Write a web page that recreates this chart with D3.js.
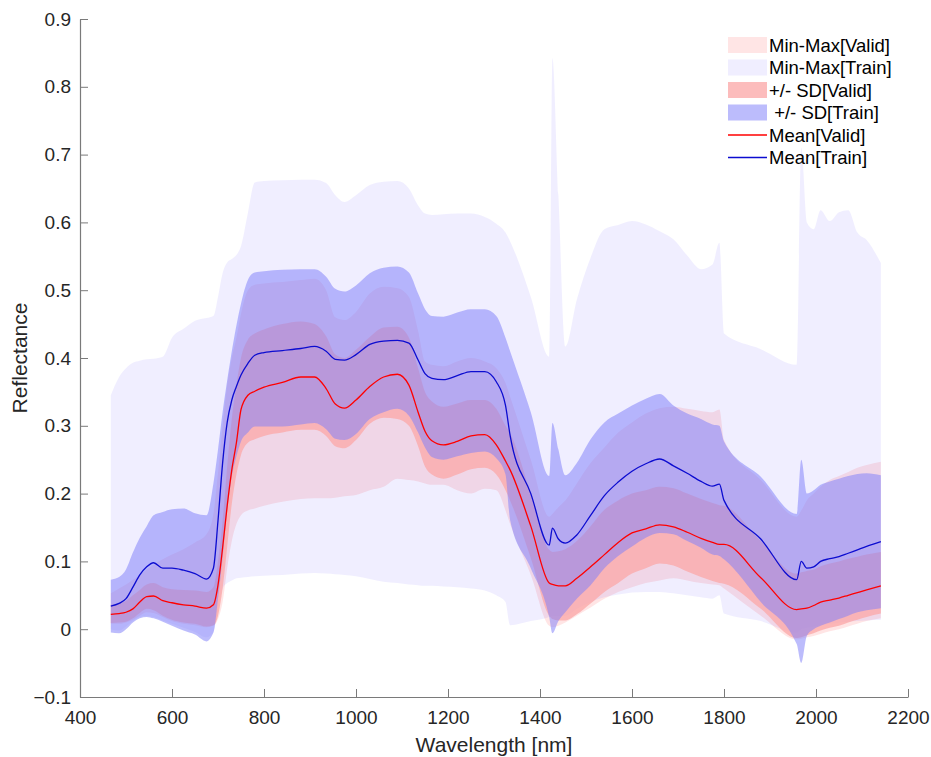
<!DOCTYPE html>
<html>
<head>
<meta charset="utf-8">
<script src="https://cdn.jsdelivr.net/npm/d3@7"></script>
<style>
  html, body { margin: 0; padding: 0; background: #fff; }
  svg { display: block; font-family: "Liberation Sans", Arial, Helvetica, sans-serif; }
</style>
</head>
<body>
<svg id="chart" width="931" height="757"></svg>
<script>
// ---------------- data ----------------
const wavelength = [467,485,500,515,530,545,560,580,600,625,650,675,690,700,710,720,730,740,750,765,780,800,840,880,910,935,955,975,1000,1030,1060,1090,1115,1135,1150,1165,1190,1220,1250,1280,1305,1325,1335,1380,1420,1427,1440,1455,1480,1510,1540,1570,1600,1630,1660,1690,1720,1750,1775,1790,1800,1880,1958,1968,1980,1995,2010,2030,2050,2070,2090,2110,2141];

const maxTrain = [0.345,0.372,0.385,0.393,0.396,0.398,0.399,0.402,0.43,0.443,0.455,0.459,0.462,0.49,0.525,0.541,0.546,0.552,0.565,0.614,0.659,0.661,0.662,0.663,0.663,0.658,0.64,0.63,0.64,0.655,0.66,0.661,0.65,0.625,0.613,0.611,0.612,0.613,0.613,0.608,0.598,0.585,0.572,0.49,0.402,0.842,0.64,0.417,0.486,0.548,0.59,0.596,0.602,0.597,0.587,0.575,0.551,0.531,0.538,0.57,0.436,0.413,0.39,0.71,0.6,0.59,0.618,0.602,0.615,0.618,0.585,0.574,0.54];
const minTrain = [0.0,-0.002,0.004,0.012,0.018,0.02,0.018,0.013,0.008,0.002,-0.004,-0.012,-0.005,0.03,0.06,0.068,0.072,0.075,0.076,0.077,0.078,0.079,0.08,0.082,0.083,0.082,0.081,0.08,0.078,0.074,0.07,0.068,0.066,0.065,0.064,0.064,0.063,0.062,0.06,0.057,0.05,0.04,0.006,0.012,0.018,0.02,0.02,0.02,0.03,0.04,0.047,0.051,0.054,0.055,0.055,0.053,0.05,0.047,0.045,0.05,0.023,0.012,-0.005,0.0,0.002,0.004,0.006,0.008,0.01,0.011,0.012,0.013,0.014];
const maxValid = [0.053,0.06,0.066,0.073,0.08,0.088,0.095,0.103,0.11,0.118,0.128,0.14,0.17,0.23,0.3,0.36,0.4,0.43,0.465,0.5,0.508,0.51,0.512,0.515,0.517,0.5,0.46,0.456,0.468,0.495,0.505,0.503,0.49,0.44,0.395,0.39,0.388,0.395,0.4,0.395,0.385,0.363,0.343,0.25,0.166,0.17,0.18,0.19,0.215,0.245,0.268,0.29,0.305,0.318,0.326,0.328,0.325,0.322,0.32,0.324,0.279,0.22,0.166,0.175,0.19,0.2,0.21,0.22,0.226,0.232,0.238,0.242,0.247];
const minValid = [0.008,0.008,0.01,0.014,0.02,0.025,0.024,0.018,0.012,0.008,0.006,0.003,0.005,0.015,0.04,0.09,0.13,0.155,0.168,0.175,0.178,0.182,0.188,0.192,0.193,0.193,0.194,0.196,0.198,0.205,0.21,0.222,0.22,0.218,0.215,0.213,0.213,0.205,0.2,0.207,0.205,0.175,0.155,0.08,0.005,0.003,0.005,0.01,0.02,0.032,0.045,0.055,0.062,0.068,0.072,0.075,0.072,0.068,0.066,0.065,0.06,0.02,-0.015,-0.014,-0.012,-0.01,-0.007,-0.003,0.0,0.004,0.008,0.012,0.016];
const sdTrainHi = [0.073,0.077,0.088,0.113,0.135,0.152,0.168,0.173,0.177,0.178,0.171,0.168,0.215,0.265,0.32,0.367,0.41,0.448,0.48,0.515,0.526,0.528,0.53,0.531,0.531,0.52,0.502,0.498,0.507,0.525,0.533,0.535,0.526,0.495,0.472,0.462,0.461,0.467,0.472,0.472,0.462,0.43,0.41,0.32,0.226,0.304,0.265,0.227,0.245,0.28,0.305,0.318,0.33,0.34,0.347,0.33,0.318,0.31,0.302,0.3,0.277,0.225,0.17,0.25,0.2,0.205,0.213,0.218,0.222,0.226,0.229,0.23,0.227];
const sdTrainLo = [-0.005,-0.006,0.0,0.01,0.016,0.018,0.016,0.011,0.005,-0.002,-0.008,-0.018,-0.005,0.045,0.105,0.175,0.225,0.255,0.277,0.29,0.299,0.299,0.299,0.302,0.304,0.295,0.281,0.279,0.288,0.31,0.32,0.325,0.315,0.29,0.268,0.254,0.25,0.255,0.26,0.262,0.252,0.228,0.161,0.09,0.018,-0.006,0.012,0.025,0.045,0.065,0.09,0.108,0.122,0.135,0.142,0.14,0.13,0.12,0.11,0.108,0.103,0.04,-0.022,-0.05,-0.01,0.0,0.005,0.01,0.015,0.02,0.025,0.028,0.031];
const sdValidHi = [0.036,0.038,0.042,0.05,0.058,0.066,0.068,0.062,0.059,0.058,0.057,0.055,0.062,0.1,0.16,0.24,0.31,0.36,0.4,0.427,0.436,0.442,0.45,0.454,0.45,0.432,0.405,0.4,0.412,0.431,0.445,0.446,0.43,0.385,0.35,0.336,0.328,0.333,0.338,0.338,0.325,0.3,0.289,0.2,0.117,0.114,0.115,0.118,0.13,0.152,0.176,0.19,0.2,0.205,0.21,0.208,0.2,0.192,0.186,0.183,0.182,0.13,0.082,0.084,0.086,0.088,0.093,0.097,0.1,0.104,0.107,0.11,0.114];
const sdValidLo = [0.009,0.01,0.011,0.016,0.024,0.03,0.028,0.02,0.014,0.01,0.008,0.004,0.006,0.02,0.06,0.122,0.185,0.228,0.257,0.275,0.28,0.285,0.29,0.294,0.294,0.285,0.27,0.267,0.279,0.303,0.312,0.31,0.3,0.27,0.24,0.228,0.222,0.228,0.236,0.238,0.228,0.205,0.19,0.105,0.02,0.015,0.013,0.013,0.022,0.038,0.055,0.068,0.082,0.09,0.097,0.094,0.085,0.077,0.071,0.068,0.067,0.03,-0.013,-0.012,-0.009,-0.006,-0.002,0.002,0.005,0.01,0.014,0.018,0.023];
const meanTrain = [0.034,0.038,0.045,0.062,0.08,0.092,0.098,0.09,0.09,0.087,0.082,0.074,0.09,0.16,0.245,0.305,0.338,0.358,0.375,0.392,0.404,0.408,0.411,0.414,0.417,0.41,0.398,0.397,0.405,0.42,0.425,0.426,0.422,0.397,0.377,0.37,0.368,0.374,0.38,0.38,0.365,0.33,0.286,0.2,0.124,0.149,0.133,0.127,0.139,0.168,0.197,0.217,0.233,0.244,0.251,0.241,0.23,0.218,0.211,0.214,0.19,0.133,0.073,0.1,0.09,0.092,0.1,0.104,0.107,0.112,0.117,0.122,0.129];
const meanValid = [0.022,0.023,0.025,0.03,0.04,0.048,0.049,0.042,0.039,0.036,0.034,0.031,0.036,0.065,0.12,0.182,0.235,0.275,0.324,0.345,0.351,0.357,0.364,0.372,0.372,0.355,0.332,0.326,0.338,0.358,0.372,0.376,0.36,0.32,0.292,0.278,0.272,0.277,0.285,0.287,0.272,0.248,0.235,0.152,0.068,0.066,0.064,0.064,0.075,0.092,0.11,0.128,0.142,0.148,0.154,0.151,0.143,0.134,0.128,0.125,0.125,0.076,0.029,0.03,0.031,0.035,0.04,0.043,0.046,0.05,0.054,0.058,0.064];

const xTicks = [400,600,800,1000,1200,1400,1600,1800,2000,2200];
const yTicks = [-0.1,0,0.1,0.2,0.3,0.4,0.5,0.6,0.7,0.8,0.9];
const legendLabels = ["Min-Max[Valid]","Min-Max[Train]","+/- SD[Valid]"," +/- SD[Train]","Mean[Valid]","Mean[Train]"];

// ---------------- drawing ----------------
const svg = d3.select("#chart");
const x = d3.scaleLinear().domain([400, 2200]).range([80, 908]);
const y = d3.scaleLinear().domain([-0.1, 0.9]).range([697, 19]);

const band = (lo, hi) => d3.area()
  .x((d, i) => x(wavelength[i]))
  .y0((d, i) => y(lo[i]))
  .y1((d, i) => y(hi[i]))
  .curve(d3.curveMonotoneX)(wavelength);
const line = (v) => d3.line()
  .x((d, i) => x(wavelength[i]))
  .y((d, i) => y(v[i]))
  .curve(d3.curveMonotoneX)(wavelength);

const styles = [
  {fill: "rgb(255,0,0)", op: 0.1},        // min-max valid
  {fill: "rgb(60,40,255)", op: 0.08},     // min-max train
  {fill: "rgb(251,168,168)", op: 0.77},   // sd valid
  {fill: "rgb(128,128,249)", op: 0.53},   // sd train
  {stroke: "#ff0000"},
  {stroke: "#0c0cd0"}
];

const plot = svg.append("g");
plot.append("path").attr("d", band(minValid, maxValid)).attr("fill", styles[0].fill).attr("fill-opacity", styles[0].op);
plot.append("path").attr("d", band(minTrain, maxTrain)).attr("fill", styles[1].fill).attr("fill-opacity", styles[1].op);
plot.append("path").attr("d", band(sdValidLo, sdValidHi)).attr("fill", styles[2].fill).attr("fill-opacity", styles[2].op);
plot.append("path").attr("d", band(sdTrainLo, sdTrainHi)).attr("fill", styles[3].fill).attr("fill-opacity", styles[3].op);
plot.append("path").attr("d", line(meanValid)).attr("fill", "none").attr("stroke", styles[4].stroke).attr("stroke-width", 1.3);
plot.append("path").attr("d", line(meanTrain)).attr("fill", "none").attr("stroke", styles[5].stroke).attr("stroke-width", 1.3);

// axes
const axisColor = "#7a7a7a";
const textColor = "#262626";
const xAxis = svg.append("g").attr("transform", "translate(0,697)")
  .call(d3.axisBottom(x).tickValues(xTicks).tickSizeInner(-8).tickSizeOuter(0).tickPadding(14).tickFormat(d3.format("d")));
const yAxis = svg.append("g").attr("transform", "translate(80,0)")
  .call(d3.axisLeft(y).tickValues(yTicks).tickSizeInner(-8).tickSizeOuter(0).tickPadding(9).tickFormat(d => d === 0 ? "0" : d3.format(".1f")(d)));
[xAxis, yAxis].forEach(g => {
  g.select(".domain").attr("stroke", axisColor).attr("stroke-width", 1.2);
  g.selectAll(".tick line").attr("stroke", axisColor).attr("stroke-width", 1);
  g.selectAll(".tick text").attr("fill", textColor).style("font-size", "19px")
    .style("font-family", "'Liberation Sans', Arial, sans-serif");
});

svg.append("text").attr("x", 494).attr("y", 752).attr("text-anchor", "middle")
  .attr("fill", textColor).style("font-size", "21px").text("Wavelength [nm]");
svg.append("text").attr("transform", "translate(27,358) rotate(-90)").attr("text-anchor", "middle")
  .attr("fill", textColor).style("font-size", "21px").text("Reflectance");

// legend
const lg = svg.append("g");
const rowY = d => 45 + d * 22.5;
legendLabels.forEach((lab, i) => {
  const cy = rowY(i);
  if (i < 4) {
    lg.append("rect").attr("x", 728).attr("y", cy - 8).attr("width", 39).attr("height", 16)
      .attr("fill", styles[i].fill).attr("fill-opacity", styles[i].op);
  } else {
    lg.append("line").attr("x1", 728).attr("x2", 767).attr("y1", cy).attr("y2", cy)
      .attr("stroke", styles[i].stroke).attr("stroke-width", 1.3);
  }
  lg.append("text").attr("x", 769).attr("y", cy + 6.5).attr("fill", "#000")
    .attr("xml:space", "preserve").style("white-space", "pre")
    .style("font-size", "18.5px").text(lab);
});
</script>
</body>
</html>
